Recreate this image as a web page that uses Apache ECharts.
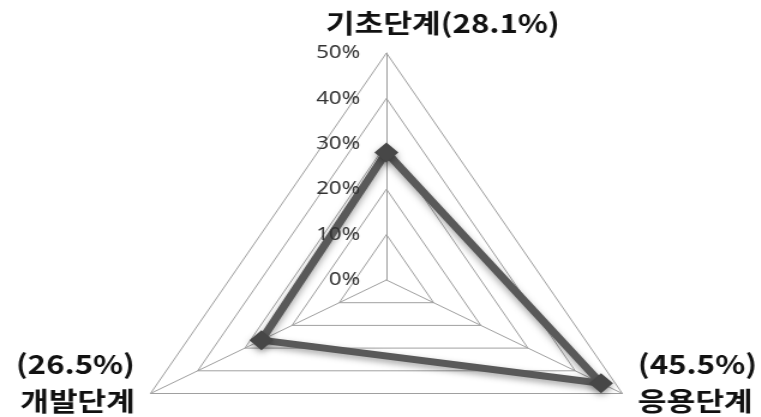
<!DOCTYPE html>
<html>
<head>
<meta charset="utf-8">
<script src="https://cdn.jsdelivr.net/npm/echarts@6/dist/echarts.min.js"></script>
<style>
  html, body { margin: 0; padding: 0; background: #fff; overflow: hidden; }
  #wrap { width: 761px; height: 417px; overflow: hidden; }
  /* the chart is laid out 634px wide and stretched horizontally to fill 761px */
  #chart { width: 634px; height: 417px; transform: scaleX(1.2); transform-origin: 0 0; }
</style>
</head>
<body>
<div id="wrap"><div id="chart"></div></div>
<script>
// research stages and their shares (%)
const stages = ['기초단계', '개발단계', '응용단계'];
const shares = [28.1, 26.5, 45.5];
const axisMin = 0;
const axisMax = 50;
const axisSteps = 5;

const chart = echarts.init(document.getElementById('chart'), null, { renderer: 'canvas' });

function stageName(name) {
  const i = stages.indexOf(name);
  const pct = '(' + shares[i].toFixed(1) + '%)';
  if (i === 0) return '{top|' + name + pct + '}';
  return '{p|' + pct + '}\n{n|' + name + '}\n{s| }';
}

const nameFont = { fontFamily: 'Noto Sans CJK KR', fontWeight: 'bold', fontSize: 26, color: '#111' };

const radarBase = {
  center: [322, 280],
  radius: 227,
  startAngle: 90,
  shape: 'polygon',
  splitNumber: axisSteps,
  nameGap: 15,
  axisTick: { show: false },
  splitArea: { show: false }
};

chart.setOption({
  animation: false,
  backgroundColor: '#fff',
  radar: [
    // grid, spokes and stage names
    Object.assign({}, radarBase, {
      indicator: stages.map(s => ({ name: s, min: axisMin, max: axisMax })),
      axisName: {
        formatter: stageName,
        rich: {
          top: Object.assign({}, nameFont, { lineHeight: 30, padding: [0, 0, 0, 94] }),
          p: Object.assign({}, nameFont, { lineHeight: 37 }),
          n: Object.assign({}, nameFont, { lineHeight: 37 }),
          s: Object.assign({}, nameFont, { lineHeight: 37 })
        }
      },
      axisLabel: { show: false },
      axisLine: { show: true, lineStyle: { color: '#a0a0a0', width: 1 } },
      splitLine: { show: true, lineStyle: { color: '#a0a0a0', width: 1 } }
    }),
    // percentage scale on the vertical axis, drawn above the data line
    Object.assign({}, radarBase, {
      z: 5,
      indicator: stages.map((s, i) => ({
        name: s, min: axisMin, max: axisMax,
        axisLabel: { show: i === 0 }
      })),
      axisName: { show: false },
      axisLabel: {
        show: false,
        formatter: '{value}%',
        margin: 22,
        fontFamily: 'Noto Sans',
        fontSize: 18.5,
        color: '#333',
        showMinLabel: true,
        showMaxLabel: true,
        hideOverlap: false
      },
      axisLine: { show: false },
      splitLine: { show: false }
    })
  ],
  series: [{
    type: 'radar',
    radarIndex: 0,
    symbol: 'diamond',
    symbolSize: 20,
    data: [{ value: shares, name: '비중' }],
    lineStyle: {
      color: '#595959', width: 7,
      shadowColor: 'rgba(0,0,0,0.35)', shadowBlur: 6, shadowOffsetY: 3
    },
    itemStyle: {
      color: '#474747',
      shadowColor: 'rgba(0,0,0,0.35)', shadowBlur: 6, shadowOffsetY: 3
    }
  }]
});
</script>
</body>
</html>
